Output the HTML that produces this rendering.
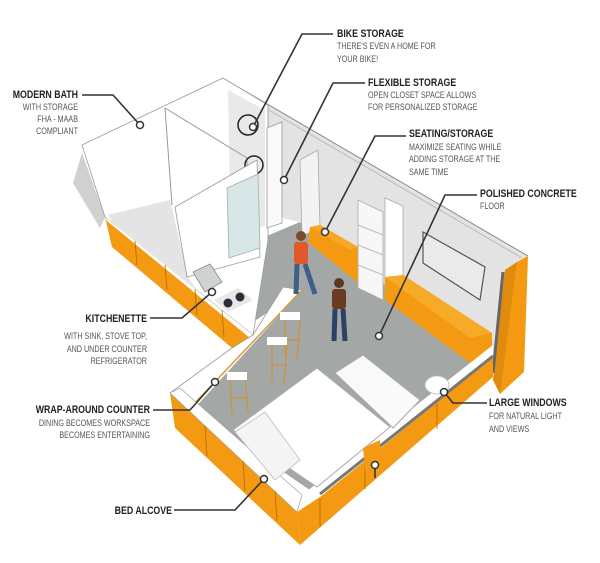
<!DOCTYPE html>
<html><head><meta charset="utf-8">
<style>
html,body{margin:0;padding:0;background:#fff;}
svg{display:block;}
.h{font-family:"Liberation Sans",sans-serif;font-weight:bold;font-size:11px;fill:#222;}
.s{font-family:"Liberation Sans",sans-serif;font-size:9px;fill:#555;}
.e{text-anchor:end;}
.ld{fill:none;stroke:#333;stroke-width:1.6;}
.c{fill:#fff;stroke:#333;stroke-width:1.5;}
</style></head>
<body>
<svg width="600" height="563" viewBox="0 0 600 563" xmlns="http://www.w3.org/2000/svg">
<polygon points="73,183 82,153 105,217 100,228" fill="#d0d0d0"/>
<polygon points="262,238 300,222 493,362 320,497 193,410 302,290 253,322" fill="#a3a8a7"/>
<polygon points="226,80 528,256 506,270 493,365 300,222 268,215" fill="#e3e3e3"/>
<line x1="226" y1="80" x2="528" y2="256" stroke="#888" stroke-width="1"/>
<line x1="231" y1="88" x2="522" y2="258" stroke="#bbb" stroke-width="1"/>
<polygon points="423,232 485,267 480,300 423,263" fill="#eaeaea" stroke="#555" stroke-width="1.2"/>
<polygon points="300,160 318,150 320,228 302,236" fill="#f3f3f3" stroke="#aaa" stroke-width="0.8"/>
<polygon points="310,227 320,225 358,247 358,283 308,242" fill="#f39a12"/>
<polygon points="310,227 320,225 358,247 350,250" fill="#f6a823"/>
<polygon points="358,200 383,212 383,300 358,288" fill="#f7f7f7" stroke="#aaa" stroke-width="0.8"/>
<g stroke="#bbb" stroke-width="1"><line x1="358" y1="225" x2="383" y2="235"/><line x1="358" y1="245" x2="383" y2="255"/><line x1="358" y1="265" x2="383" y2="275"/></g>
<polygon points="385,198 403,206 403,303 385,295" fill="#fff" stroke="#aaa" stroke-width="0.8"/>
<polygon points="385,277 403,275 492,333 492,360 470,363 385,300" fill="#f39a12"/>
<polygon points="385,277 403,275 492,333 470,338" fill="#f7a928"/>
<polygon points="517,262 528,256 524,372 500,394 493,380 505,270" fill="#f39a12"/>
<polygon points="505,270 517,262 500,394 493,380" fill="#e08a0e"/>
<line x1="503" y1="272" x2="493" y2="373" stroke="#666" stroke-width="3"/>
<polygon points="82,145 223,78 268,105 268,240 253,335 105,217" fill="#fff" stroke="#999" stroke-width="0.8"/>
<polygon points="228,90 265,110 265,225 240,240 230,200" fill="#e9e9e9"/>
<polygon points="108,215 170,200 188,277 205,302 130,245" fill="#e4e4e4"/>
<polyline points="165,108 247,158 247,175" fill="none" stroke="#999" stroke-width="1"/>
<line x1="165" y1="108" x2="172" y2="205" stroke="#999" stroke-width="1"/>
<polygon points="267,128 282,122 282,223 267,228" fill="#fafafa" stroke="#999" stroke-width="0.8"/>
<circle cx="248" cy="125" r="10" fill="none" stroke="#222" stroke-width="1.5"/>
<circle cx="254" cy="165" r="9" fill="none" stroke="#222" stroke-width="1.5"/>
<polygon points="175,207 257,160 260,257 187,277" fill="#fff" stroke="#999" stroke-width="0.8"/>
<polygon points="227,188 258,174 260,248 229,258" fill="#d7e6e6" stroke="#aaa" stroke-width="0.8"/>
<polygon points="193,272 210,264 222,282 205,292" fill="#cfd2d2" stroke="#888" stroke-width="0.8"/>
<polygon points="214,300 238,288 253,300 228,312" fill="#e8e8e8"/>
<circle cx="228" cy="303" r="4.5" fill="#2a2f3a"/><circle cx="240" cy="297" r="4.5" fill="#2a2f3a"/>
<polygon points="105,217 253,335 232,348 112,247" fill="#f39a12"/>
<polygon points="105,217 253,335 250,338 107,221" fill="#fff"/>
<g stroke="#b06a00" stroke-width="0.8"><line x1="135" y1="241" x2="137" y2="265"/><line x1="165" y1="265" x2="167" y2="290"/><line x1="195" y1="289" x2="197" y2="315"/><line x1="222" y1="310" x2="224" y2="337"/></g>
<polygon points="232,348 253,335 283,287 302,290 191,407 170,393" fill="#fff" stroke="#999" stroke-width="0.8"/>
<line x1="191" y1="407" x2="302" y2="290" stroke="#d69a3a" stroke-width="1.5"/>
<g fill="none" stroke="#c8954a" stroke-width="1.5">
<path d="M285,320 l0,35 M300,320 l-3,40 M285,340 l15,0"/>
<path d="M272,345 l0,35 M287,345 l-3,40 M272,365 l15,0"/>
<path d="M230,380 l2,35 M245,378 l3,35 M232,398 l15,0"/>
</g>
<g fill="#fff"><rect x="280" y="312" width="20" height="8"/><rect x="267" y="337" width="20" height="8"/><rect x="227" y="372" width="20" height="8"/></g>
<circle cx="301" cy="236" r="5" fill="#7a4a2a"/>
<rect x="294" y="242" width="14" height="22" rx="3" fill="#e2582b"/>
<path d="M297,264 l-1,30 M305,264 l10,30" stroke="#3e5f8a" stroke-width="5"/>
<circle cx="339" cy="283" r="5" fill="#5a3a22"/>
<rect x="332" y="289" width="14" height="20" rx="3" fill="#6b3a22"/>
<path d="M335,309 l-1,32 M343,309 l2,32" stroke="#2e3f68" stroke-width="5"/>
<polygon points="170,393 297,512 300,545 175,428" fill="#f39a12"/>
<polygon points="170,393 180,388 302,495 297,512" fill="#fff" stroke="#999" stroke-width="0.6"/>
<g stroke="#b06a00" stroke-width="0.8"><line x1="205" y1="426" x2="207" y2="456"/><line x1="243" y1="461" x2="245" y2="491"/><line x1="275" y1="491" x2="277" y2="521"/></g>
<polygon points="297,512 320,497 493,357 493,377 300,545" fill="#f39a12"/>
<polygon points="302,495 320,497 493,357 493,345" fill="#fff"/>
<line x1="320" y1="494" x2="493" y2="356" stroke="#777" stroke-width="3"/>
<g stroke="#b06a00" stroke-width="0.8"><line x1="320" y1="499" x2="320" y2="527"/><line x1="365" y1="462" x2="365" y2="489"/><line x1="437" y1="404" x2="437" y2="429"/></g>
<polygon points="233,430 317,368 390,427 317,487" fill="#fff" stroke="#aaa" stroke-width="1"/>
<polygon points="235,432 265,412 300,460 275,480" fill="#f4f4f4" stroke="#bbb" stroke-width="0.8"/>
<polygon points="335,373 363,355 420,400 393,428" fill="#fafafa" stroke="#aaa" stroke-width="1"/>
<ellipse cx="437" cy="385" rx="12" ry="9" fill="#fff" stroke="#bbb" stroke-width="0.8"/>
<polygon points="363,448 380,440 382,470 366,478" fill="#f39a12"/>
<polyline class="ld" points="333,34 302,34 253,127"/>
<polyline class="ld" points="365,83 333,83 284,180"/>
<polyline class="ld" points="406,136 375,136 325,232"/>
<polyline class="ld" points="477,195 445,195 379,336"/>
<polyline class="ld" points="82,95 113,95 140,125"/>
<polyline class="ld" points="150,318 182,318 212,292"/>
<polyline class="ld" points="153,410 190,410 215,382"/>
<polyline class="ld" points="174,510 235,510 264,479"/>
<polyline class="ld" points="487,403 453,403 444,392"/>
<line class="ld" x1="375" y1="465" x2="375" y2="478"/>
<g>
<circle class="c" cx="253" cy="127" r="3.5"/><circle class="c" cx="284" cy="180" r="3.5"/>
<circle class="c" cx="325" cy="232" r="3.5"/><circle class="c" cx="379" cy="336" r="3.5"/>
<circle class="c" cx="140" cy="125" r="3.5"/><circle class="c" cx="212" cy="292" r="3.5"/>
<circle class="c" cx="215" cy="382" r="3.5"/><circle class="c" cx="264" cy="479" r="3.5"/>
<circle class="c" cx="444" cy="392" r="3.5"/><circle class="c" cx="375" cy="465" r="3.5"/>
</g>
<g transform="translate(337 0) scale(0.8 1)">
<text class="h" x="0" y="37">BIKE STORAGE</text>
<text class="s" x="0" y="49">THERE'S EVEN A HOME FOR</text>
<text class="s" x="0" y="62">YOUR BIKE!</text></g>
<g transform="translate(368 0) scale(0.8 1)">
<text class="h" x="0" y="86">FLEXIBLE STORAGE</text>
<text class="s" x="0" y="98">OPEN CLOSET SPACE ALLOWS</text>
<text class="s" x="0" y="110">FOR PERSONALIZED STORAGE</text></g>
<g transform="translate(409 0) scale(0.8 1)">
<text class="h" x="0" y="137">SEATING/STORAGE</text>
<text class="s" x="0" y="150">MAXIMIZE SEATING WHILE</text>
<text class="s" x="0" y="162">ADDING STORAGE AT THE</text>
<text class="s" x="0" y="175">SAME TIME</text></g>
<g transform="translate(480 0) scale(0.8 1)">
<text class="h" x="0" y="197">POLISHED CONCRETE</text>
<text class="s" x="0" y="209">FLOOR</text></g>
<g transform="translate(78 0) scale(0.8 1)">
<text class="h e" x="0" y="98">MODERN BATH</text>
<text class="s e" x="0" y="110">WITH STORAGE</text>
<text class="s e" x="0" y="122">FHA - MAAB</text>
<text class="s e" x="0" y="134">COMPLIANT</text></g>
<g transform="translate(147 0) scale(0.8 1)">
<text class="h e" x="0" y="322">KITCHENETTE</text>
<text class="s e" x="0" y="339">WITH SINK, STOVE TOP,</text>
<text class="s e" x="0" y="352">AND UNDER COUNTER</text>
<text class="s e" x="0" y="364">REFRIGERATOR</text></g>
<g transform="translate(150 0) scale(0.8 1)">
<text class="h e" x="0" y="413">WRAP-AROUND COUNTER</text>
<text class="s e" x="0" y="426">DINING BECOMES WORKSPACE</text>
<text class="s e" x="0" y="438">BECOMES ENTERTAINING</text></g>
<g transform="translate(172 0) scale(0.8 1)">
<text class="h e" x="0" y="514">BED ALCOVE</text></g>
<g transform="translate(489 0) scale(0.8 1)">
<text class="h" x="0" y="406">LARGE WINDOWS</text>
<text class="s" x="0" y="419">FOR NATURAL LIGHT</text>
<text class="s" x="0" y="432">AND VIEWS</text></g>
</svg>
</body></html>
